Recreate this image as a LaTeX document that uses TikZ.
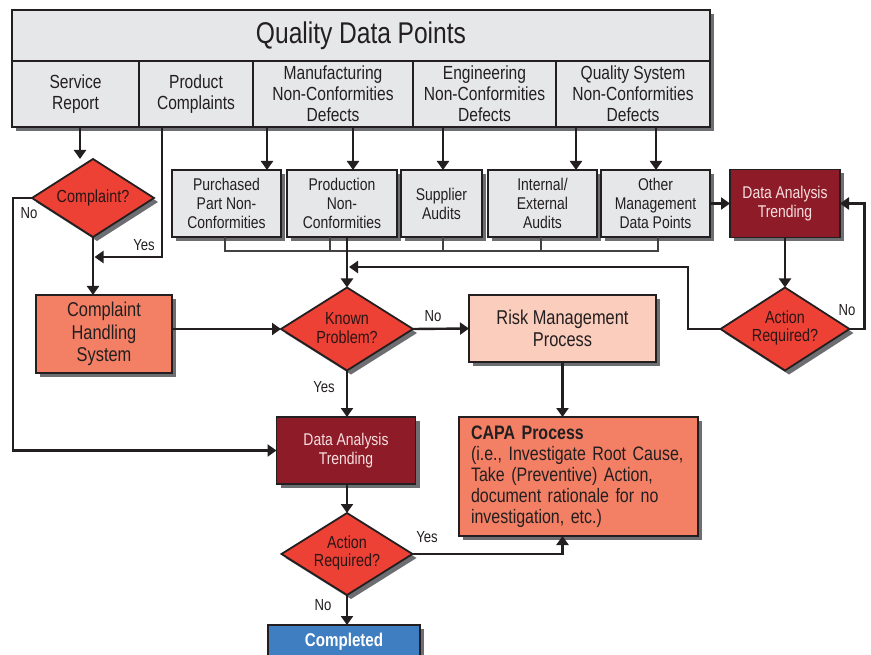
\documentclass[tikz,border=0pt]{standalone}
\usepackage{fontspec}
\setmainfont{Liberation Sans}[FakeStretch=0.82]
\usetikzlibrary{shapes.geometric,arrows.meta}
\newcommand{\tightsp}{\spaceskip=0.22em plus 0.08em minus 0.04em\relax}
\definecolor{boxg}{HTML}{E6E7E8}
\definecolor{shadowc}{HTML}{6D6E71}
\definecolor{linec}{HTML}{231F20}
\definecolor{diamred}{HTML}{EE4136}
\definecolor{darkred}{HTML}{8E1B28}
\definecolor{salmon}{HTML}{F37F64}
\definecolor{peach}{HTML}{FBCDBD}
\definecolor{bluec}{HTML}{3F7EC1}
\definecolor{dtextc}{HTML}{2A1515}
\definecolor{lighttext}{HTML}{F8E0E0}
\begin{document}
\begin{tikzpicture}[x=1pt,y=-1pt,
  shadowed/.style={preaction={draw=none,fill=shadowc,transform canvas={shift={(4,4)}}}},
  box/.style={shadowed,draw=linec,line width=1.8pt,inner sep=0pt,outer sep=0pt,align=center,text=linec},
  hdr/.style={box,fill=boxg,minimum height=66pt,font=\fontsize{19}{21}\selectfont\tightsp},
  src/.style={box,fill=boxg,minimum height=67pt,font=\fontsize{17}{19}\selectfont\tightsp},
  dat/.style={box,fill=darkred,text=lighttext,font=\fontsize{17}{19}\selectfont\tightsp},
  dia/.style={shadowed,shape=diamond,draw=linec,line width=1.8pt,fill=diamred,inner sep=0pt,outer sep=0pt},
  dtext/.style={align=center,text=dtextc,font=\fontsize{17.5}{18.5}\selectfont,inner sep=0pt},
  lbl/.style={text=linec,font=\fontsize{16}{18}\selectfont,inner sep=0pt},
  arr/.style={draw=linec,line width=2.4pt,-{Triangle[length=9pt,width=12pt]}},
  thinl/.style={draw=linec!85,line width=1.1pt}
]
\useasboundingbox (0,0) rectangle (871,655);

% top block
\node[box,fill=boxg,minimum width=698pt,minimum height=51pt,font=\fontsize{30}{32}\selectfont\tightsp] (title) at (361,35.5) {Quality Data Points};
\node[hdr,minimum width=127pt] (sr) at (75.5,94) {Service\\Report};
\node[hdr,minimum width=114pt] (pc) at (196,94) {Product\\Complaints};
\node[hdr,minimum width=160pt] (mf) at (333,94) {Manufacturing\\Non-Conformities\\Defects};
\node[hdr,minimum width=143pt] (en) at (484.5,94) {Engineering\\Non-Conformities\\Defects};
\node[hdr,minimum width=154pt] (qs) at (633,94) {Quality System\\Non-Conformities\\Defects};

% source boxes
\node[src,minimum width=109pt] (pur) at (226.5,203.5) {Purchased\\Part Non-\\Conformities};
\node[src,minimum width=110pt] (pro) at (342,203.5) {Production\\Non-\\Conformities};
\node[src,minimum width=81pt] (sup) at (441.5,203.5) {Supplier\\Audits};
\node[src,minimum width=109pt] (ie) at (542.5,203.5) {Internal/\\External\\Audits};
\node[src,minimum width=109pt] (oth) at (655.5,203.5) {Other\\Management\\Data Points};
\node[dat,minimum width=110pt,minimum height=68pt] (dat1) at (785,203.5) {Data Analysis\\Trending};

% diamonds
\node[dia,minimum width=122pt,minimum height=78pt] (cpl) at (93,198) {};
\node[dtext] (cplt) at (cpl) {Complaint?};
\node[dia,minimum width=132pt,minimum height=83pt] (kp) at (347,329) {};
\node[dtext] (kpt) at (347,328) {Known\\Problem?};
\node[dia,minimum width=129pt,minimum height=83pt] (ar1) at (785,329) {};
\node[dtext] (ar1t) at (785,328) {Action\\Required?};
\node[dia,minimum width=131pt,minimum height=82pt] (ar2) at (347,554) {};
\node[dtext] (ar2t) at (347,553) {Action\\Required?};

% process boxes
\node[box,fill=salmon,minimum width=136pt,minimum height=78pt,font=\fontsize{20}{22.5}\selectfont] (chs) at (104,334) {Complaint\\Handling\\System};
\node[box,fill=peach,minimum width=187pt,minimum height=67pt,font=\fontsize{20}{22}\selectfont\tightsp] (rm) at (562.5,328.5) {Risk Management\\Process};
\node[dat,minimum width=139pt,minimum height=67pt] (dat2) at (346,450.5) {Data Analysis\\Trending};
\node[box,fill=salmon,minimum width=239pt,minimum height=119pt,text width=215pt,align=left,font=\fontsize{19.5}{21}\selectfont\tightsp] (capa) at (578.5,476.5) {\textbf{CAPA Process}\\(i.e., Investigate Root Cause,\\Take (Preventive) Action,\\document rationale for no\\investigation, etc.)};
\node[box,fill=bluec,text=white,minimum width=152pt,minimum height=34pt,font=\bfseries\fontsize{18.5}{20}\selectfont] (comp) at (344,642) {Completed};

% arrows from header row
\draw[arr] ([xshift=4.5pt]sr.south) -- ([xshift=4.5pt]sr.south |- cpl.north);
\coordinate (yesj) at (94.5,257);
\draw[arr] ([xshift=-34pt]pc.south) |- (yesj);
\draw[arr] ([xshift=-66pt]mf.south) -- ([xshift=-66pt]mf.south |- pur.north);
\draw[arr] ([xshift=20pt]mf.south) -- ([xshift=20pt]mf.south |- pro.north);
\draw[arr] ([xshift=-41.5pt]en.south) -- ([xshift=-41.5pt]en.south |- sup.north);
\draw[arr] ([xshift=-57pt]qs.south) -- ([xshift=-57pt]qs.south |- ie.north);
\draw[arr] ([xshift=23pt]qs.south) -- ([xshift=23pt]qs.south |- oth.north);

% thin collector
\coordinate (tl) at (225,251);
\coordinate (tr) at (658,251);
\draw[thinl] ([xshift=-1.5pt]pur.south) |- (tl) -- (tr) -| ([xshift=2.5pt]oth.south);
\draw[thinl] ([xshift=-12pt]pro.south) -- ([xshift=-12pt]pro.south |- tl);
\draw[thinl] ([xshift=1.5pt]sup.south) -- ([xshift=1.5pt]sup.south |- tl);
\draw[thinl] ([xshift=-1.5pt]ie.south) -- ([xshift=-1.5pt]ie.south |- tl);

% main flow
\draw[arr] ([xshift=5pt]pro.south) -- (kp.north);
\draw[arr] (oth.east) -- (dat1.west);
\draw[arr] (dat1.south) -- (ar1.north);
\coordinate (fb) at (688,267);
\coordinate (fbend) at (349,267);
\draw[arr] (ar1.west) -| (fb) -- (fbend);
\draw[arr] (ar1.east) -- ++(15,0) |- (dat1.east);
\node[lbl] (no1) at (847,310) {No};

\draw[arr] (cpl.south) -- (cpl.south |- chs.north);
\node[lbl] (yes0) at (144,245) {Yes};
\coordinate (nol) at (13,198);
\draw[arr] (cpl.west) -- (nol) |- (dat2.west);
\node[lbl] (no0) at (29,213) {No};

\draw[arr] (chs.east |- kp.west) -- (kp.west);
\draw[arr] (kp.east) -- (rm.west);
\node[lbl] (no2) at (433,316) {No};
\draw[arr] (kp.south) -- (kp.south |- dat2.north);
\node[lbl] (yes2) at (324,387) {Yes};
\draw[arr] (rm.south) -- (rm.south |- capa.north);

\draw[arr] (dat2.south -| ar2.north) -- (ar2.north);
\draw[arr] (ar2.east) -| (rm.south |- capa.south);
\node[lbl] (yes3) at (427,537) {Yes};
\draw[arr] (ar2.south) -- (ar2.south |- comp.north);
\node[lbl] (no3) at (323,605) {No};
\end{tikzpicture}
\end{document}
